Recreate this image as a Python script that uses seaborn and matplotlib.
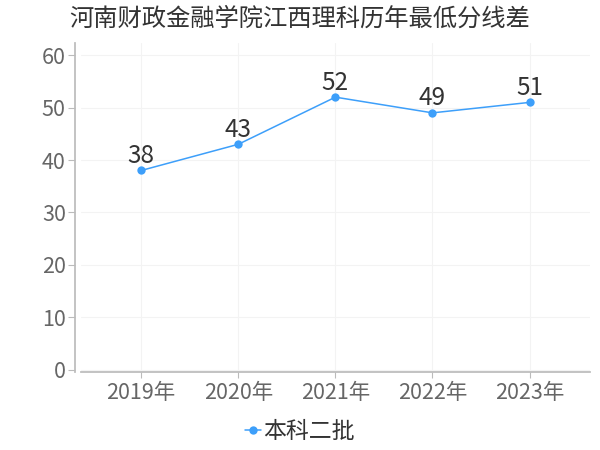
import matplotlib
matplotlib.use("Agg")
import matplotlib.pyplot as plt
import seaborn as sns
import pandas as pd

# data
years = ["2019年", "2020年", "2021年", "2022年", "2023年"]
scores = [38, 43, 52, 49, 51]
series_name = "本科二批"
title = "河南财政金融学院江西理科历年最低分线差"
y_ticks = [0, 10, 20, 30, 40, 50, 60]

sns.set_theme(style="white")
plt.rcParams["font.family"] = ["Noto Sans CJK SC", "DejaVu Sans"]

df = pd.DataFrame({"year": years, "score": scores, "batch": series_name})

fig = plt.figure(figsize=(6, 4.5), dpi=100)
ax = fig.add_axes([0.135, 0.173, 0.848, 0.731])

line_color = "#3d9ffa"
sns.lineplot(data=df, x="year", y="score", hue="batch", palette=[line_color],
             marker="o", markersize=6, markeredgewidth=0, linewidth=1.1,
             sort=False, ax=ax)

for i, v in enumerate(scores):
    ax.text(i, v + 0.3, str(v), ha="center", va="bottom",
            fontsize=17.5, color="#333333")

ax.set_xlim(-0.62, 4.62)
ax.set_ylim(-0.5, 62.3)
ax.set_yticks(y_ticks)
ax.set_xlabel("")
ax.set_ylabel("")

ax.grid(True, color="#f3f3f3", linewidth=0.8)
ax.set_axisbelow(True)
for s in ["top", "right"]:
    ax.spines[s].set_visible(False)
ax.spines["left"].set_color("#bbbbbb")
ax.spines["bottom"].set_color("#bbbbbb")
ax.spines["left"].set_position(("outward", 4))
ax.tick_params(axis="y", colors="#bbbbbb", labelcolor="#666666",
               labelsize=15.5, length=5, width=0.8, left=True, pad=2)
ax.tick_params(axis="x", colors="#bbbbbb", labelcolor="#666666",
               labelsize=15.5, length=4, width=0.8, bottom=True, pad=3)

fig.text(0.5, 0.958, title, ha="center", va="center",
         fontsize=17.5, color="#333333")

handles, labels = ax.get_legend_handles_labels()
ax.get_legend().remove()
fig.legend(handles, labels, loc="center", bbox_to_anchor=(0.5, 0.04),
           frameon=False, fontsize=16.5, handlelength=0.7,
           handletextpad=0.1, labelcolor="#333333")

fig.savefig("out.png", dpi=100)
